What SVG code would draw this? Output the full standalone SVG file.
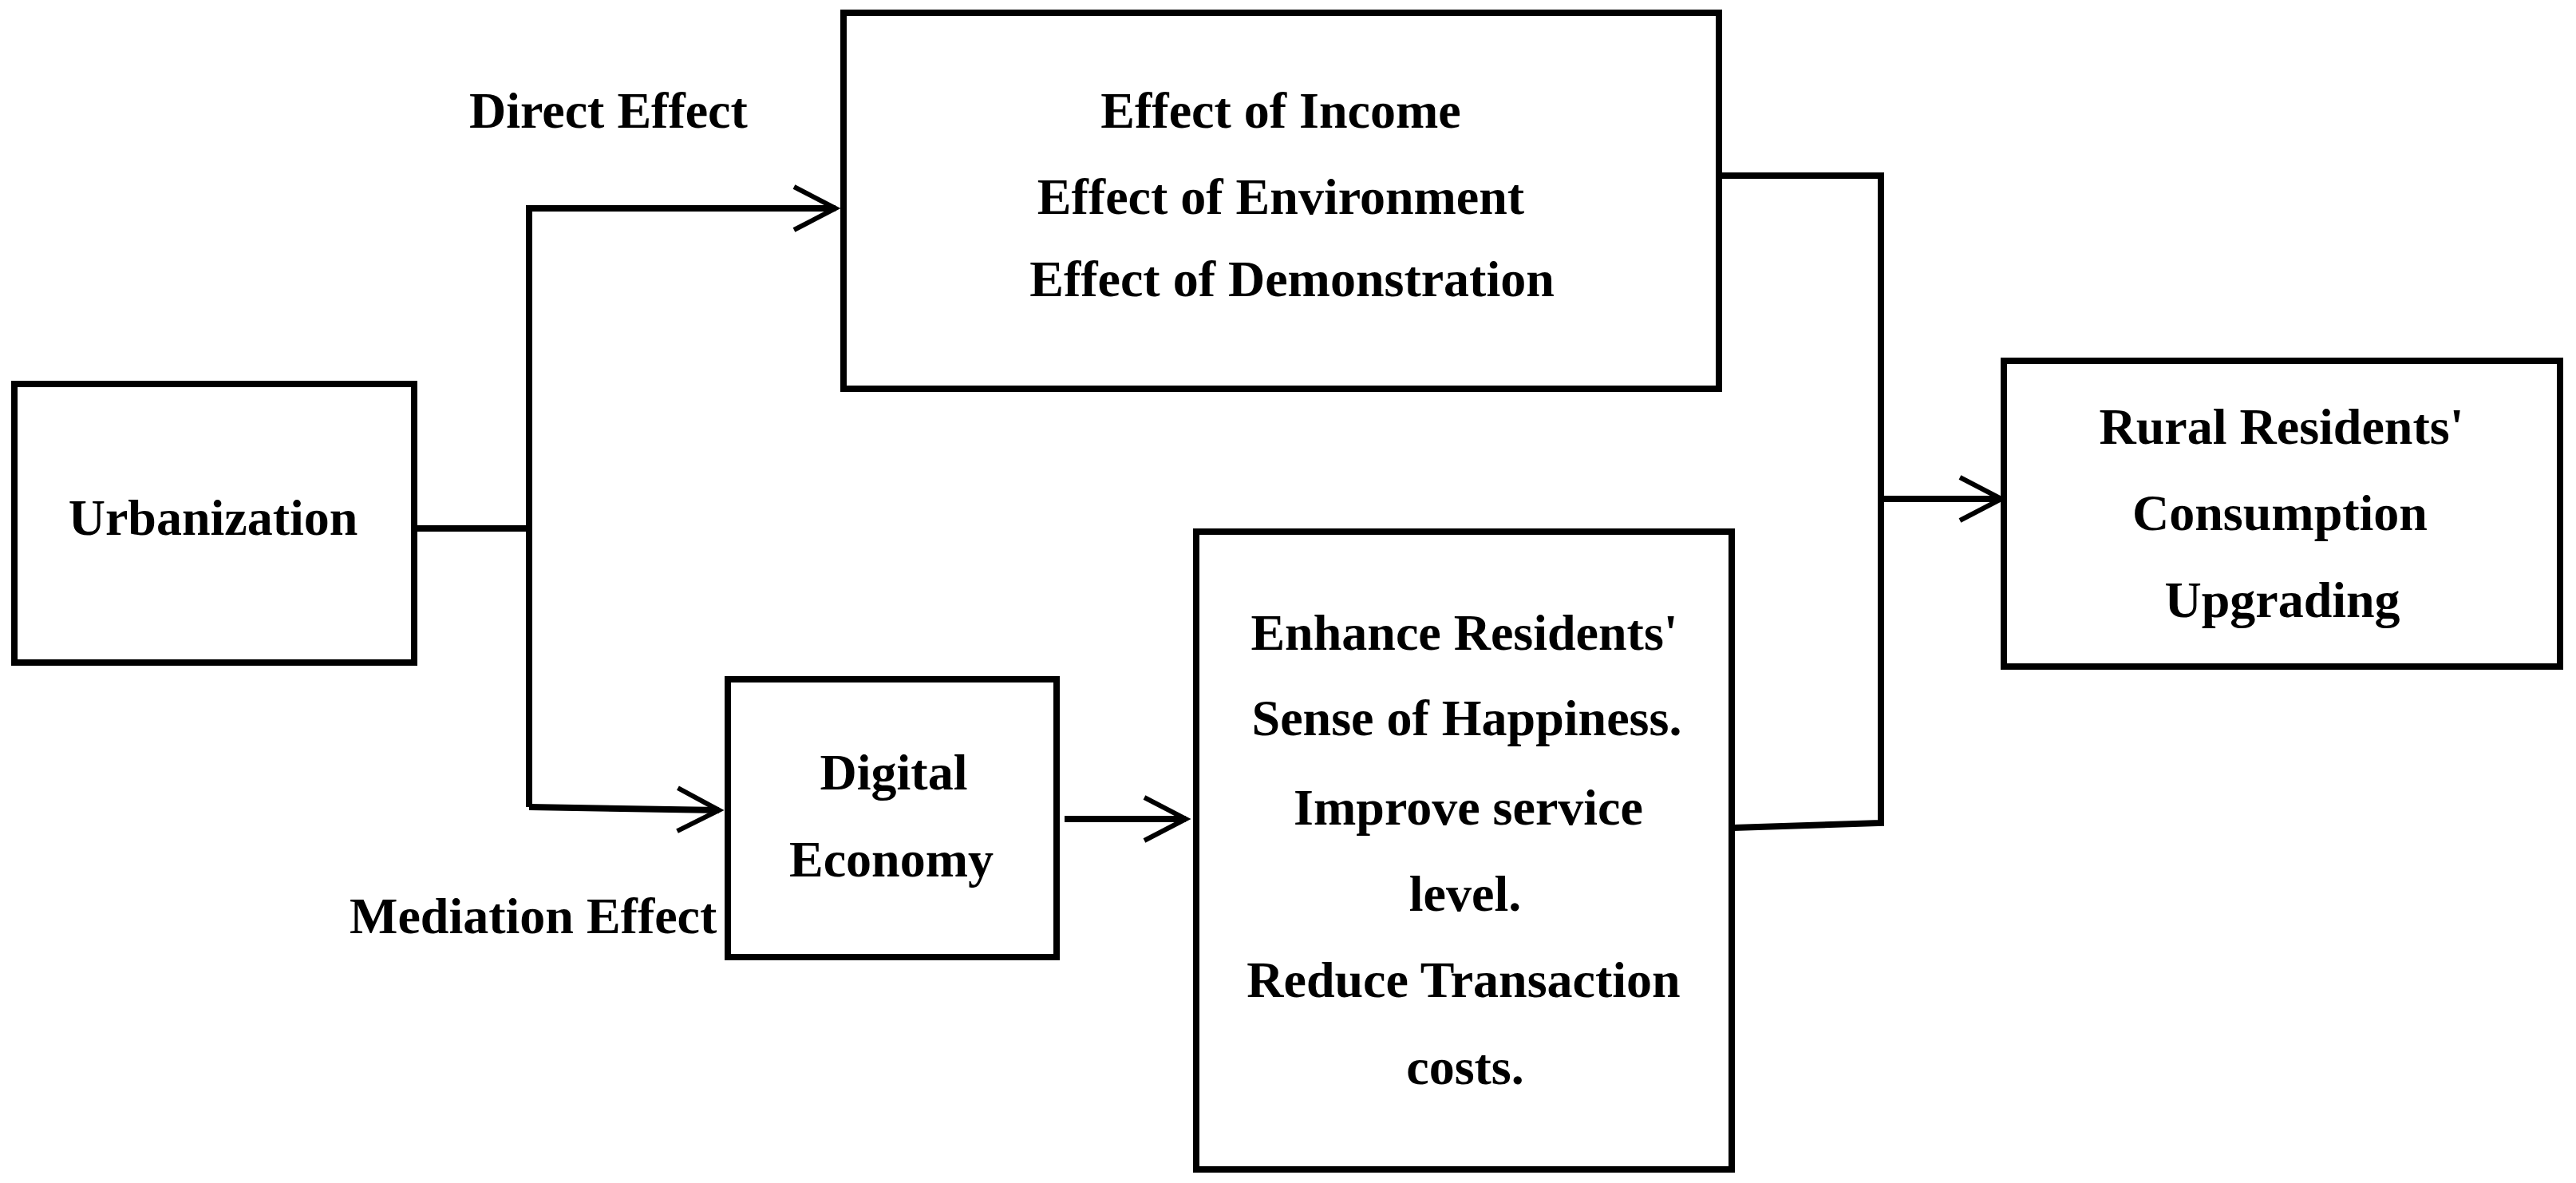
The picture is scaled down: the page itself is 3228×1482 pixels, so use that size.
<svg xmlns="http://www.w3.org/2000/svg" width="3228" height="1482" viewBox="0 0 3228 1482">
  <style>
    .box { fill: #ffffff; stroke: #000000; stroke-width: 8; }
    .lbl { font-family: "Liberation Serif", "Times New Roman", serif; font-weight: bold; font-size: 64px; fill: #000000; }
    .mid { text-anchor: middle; }
    .conn { fill: none; stroke: #000000; stroke-width: 8; stroke-linejoin: miter; }
  </style>
  <defs>
    <marker id="chev" markerUnits="userSpaceOnUse" markerWidth="70" markerHeight="70" viewBox="-60 -35 70 70" refX="0" refY="0" orient="auto">
      <path d="M -52 -27 L 0 0 L -52 27" fill="none" stroke="#000000" stroke-width="6"/>
    </marker>
  </defs>
  <rect width="3228" height="1482" fill="#ffffff"/>

  <g id="connectors">
    <path class="conn" d="M 519 662 L 663 662"/>
    <path class="conn" d="M 663 1011 L 663 261 L 1047 261" marker-end="url(#chev)"/>
    <path class="conn" d="M 663 1011 L 901 1015" marker-end="url(#chev)"/>
    <path class="conn" d="M 1334 1026 L 1486 1026" marker-end="url(#chev)"/>
    <path class="conn" d="M 2154 220 L 2357 220 L 2357 1031 L 2172 1037"/>
    <path class="conn" d="M 2357 625 L 2508 625" marker-end="url(#chev)"/>
  </g>

  <g id="label-direct">
    <text class="lbl" x="588" y="160">Direct Effect</text>
  </g>
  <g id="label-mediation">
    <text class="lbl" x="438" y="1169">Mediation Effect</text>
  </g>

  <g id="node-urbanization">
    <rect class="box" x="18" y="481" width="501" height="349"/>
    <text class="lbl mid" x="267" y="670">Urbanization</text>
  </g>

  <g id="node-direct-effects">
    <rect class="box" x="1057" y="16" width="1097" height="471"/>
    <text class="lbl mid" x="1605" y="160">Effect of Income</text>
    <text class="lbl mid" x="1605" y="268">Effect of Environment</text>
    <text class="lbl mid" x="1619" y="371">Effect of Demonstration</text>
  </g>

  <g id="node-digital-economy">
    <rect class="box" x="912" y="851" width="412" height="348"/>
    <text class="lbl mid" x="1120" y="989">Digital</text>
    <text class="lbl mid" x="1117" y="1098">Economy</text>
  </g>

  <g id="node-mechanisms">
    <rect class="box" x="1499" y="666" width="671" height="799"/>
    <text class="lbl mid" x="1835" y="814">Enhance Residents'</text>
    <text class="lbl mid" x="1838" y="921">Sense of Happiness.</text>
    <text class="lbl mid" x="1840" y="1033">Improve service</text>
    <text class="lbl mid" x="1836" y="1141">level.</text>
    <text class="lbl mid" x="1834" y="1249">Reduce Transaction</text>
    <text class="lbl mid" x="1836" y="1358">costs.</text>
  </g>

  <g id="node-consumption-upgrading">
    <rect class="box" x="2511" y="452" width="697" height="383"/>
    <text class="lbl mid" x="2859" y="556">Rural Residents'</text>
    <text class="lbl mid" x="2857" y="664">Consumption</text>
    <text class="lbl mid" x="2860" y="773">Upgrading</text>
  </g>
</svg>
